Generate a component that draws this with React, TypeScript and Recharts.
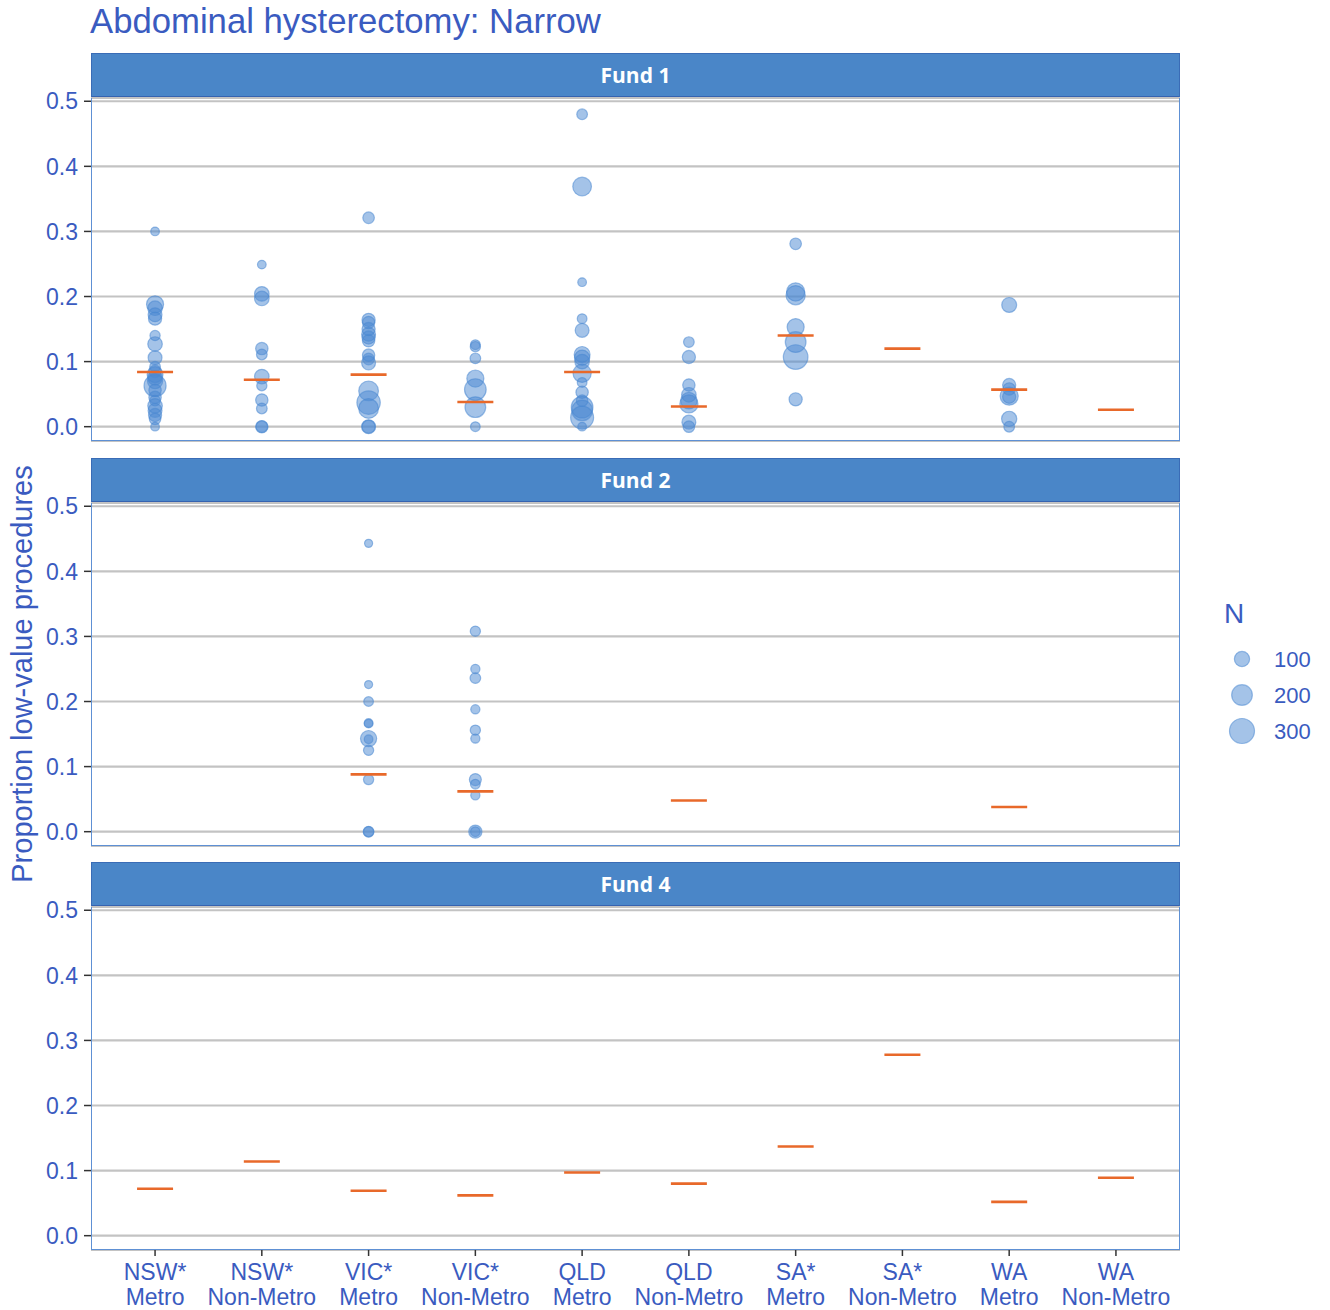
import React from 'react';
import { ScatterChart, Scatter, XAxis, YAxis, ZAxis, CartesianGrid } from 'recharts';

const regionLabels = ['NSW*', 'NSW*', 'VIC*', 'VIC*', 'QLD', 'QLD', 'SA*', 'SA*', 'WA', 'WA'];
const areaLabels = ['Metro', 'Non-Metro', 'Metro', 'Non-Metro', 'Metro', 'Non-Metro', 'Metro', 'Non-Metro', 'Metro', 'Non-Metro'];
const categoryIndex = [1, 2, 3, 4, 5, 6, 7, 8, 9, 10];
const yTicks = [0, 0.1, 0.2, 0.3, 0.4, 0.5];
const legendSizes = [100, 200, 300];

// [category (1-based), proportion low-value, N]
const fund1Points: [number, number, number][] = [
  [1, 0.300, 20], [1, 0.188, 130], [1, 0.182, 90], [1, 0.172, 80], [1, 0.166, 70], [1, 0.140, 35],
  [1, 0.127, 90], [1, 0.106, 80], [1, 0.092, 40], [1, 0.085, 60], [1, 0.080, 110], [1, 0.075, 90],
  [1, 0.070, 100], [1, 0.063, 230], [1, 0.056, 60], [1, 0.045, 60], [1, 0.040, 40], [1, 0.032, 90],
  [1, 0.025, 80], [1, 0.018, 70], [1, 0.012, 50], [1, 0.0, 20],
  [2, 0.249, 20], [2, 0.204, 90], [2, 0.197, 90], [2, 0.120, 60], [2, 0.111, 40], [2, 0.077, 90],
  [2, 0.063, 35], [2, 0.041, 60], [2, 0.028, 40], [2, 0.0, 60], [2, 0.0, 50],
  [3, 0.321, 50], [3, 0.164, 70], [3, 0.160, 60], [3, 0.150, 70], [3, 0.142, 80], [3, 0.137, 70],
  [3, 0.132, 60], [3, 0.110, 60], [3, 0.104, 50], [3, 0.098, 80], [3, 0.055, 180], [3, 0.037, 260],
  [3, 0.028, 180], [3, 0.0, 80], [3, 0.0, 70],
  [4, 0.126, 30], [4, 0.123, 35], [4, 0.105, 40], [4, 0.074, 130], [4, 0.057, 220], [4, 0.030, 200],
  [4, 0.0, 30],
  [5, 0.480, 40], [5, 0.369, 160], [5, 0.222, 20], [5, 0.166, 30], [5, 0.148, 80], [5, 0.111, 110],
  [5, 0.106, 100], [5, 0.100, 90], [5, 0.082, 150], [5, 0.068, 30], [5, 0.053, 60], [5, 0.040, 50],
  [5, 0.030, 220], [5, 0.025, 200], [5, 0.014, 250], [5, 0.0, 20],
  [6, 0.130, 40], [6, 0.107, 70], [6, 0.064, 60], [6, 0.049, 90], [6, 0.040, 120], [6, 0.035, 150],
  [6, 0.007, 80], [6, 0.0, 50],
  [7, 0.281, 50], [7, 0.207, 150], [7, 0.202, 170], [7, 0.153, 130], [7, 0.130, 200], [7, 0.107, 290],
  [7, 0.042, 70],
  [9, 0.187, 95], [9, 0.064, 70], [9, 0.058, 60], [9, 0.047, 150], [9, 0.046, 70], [9, 0.012, 100],
  [9, 0.0, 40],
];

const fund2Points: [number, number, number][] = [
  [3, 0.443, 15], [3, 0.226, 15], [3, 0.200, 30], [3, 0.167, 20], [3, 0.166, 20], [3, 0.143, 115],
  [3, 0.142, 20], [3, 0.125, 35], [3, 0.080, 35], [3, 0.0, 40], [3, 0.0, 35],
  [4, 0.308, 35], [4, 0.250, 25], [4, 0.236, 40], [4, 0.188, 25], [4, 0.156, 35], [4, 0.143, 25],
  [4, 0.080, 55], [4, 0.073, 30], [4, 0.056, 25], [4, 0.0, 70], [4, 0.0, 30],
];

const fund4Points: [number, number, number][] = [];

const fund1Medians: (number | null)[] = [0.084, 0.072, 0.080, 0.038, 0.084, 0.031, 0.140, 0.120, 0.057, 0.026];
const fund2Medians: (number | null)[] = [null, null, 0.088, 0.062, null, 0.048, null, null, 0.038, null];
const fund4Medians: (number | null)[] = [0.072, 0.114, 0.069, 0.062, 0.097, 0.080, 0.137, 0.278, 0.052, 0.089];

const BLUE_TEXT = '#3A5BC0';
const POINT = '#4A88D2';
const ORANGE = '#E8692A';
const STRIP = '#4A86C8';
const FONT = "'Liberation Sans', Arial, sans-serif";

const Z_DOMAIN: [number, number] = [0, 300];
const Z_RANGE: [number, number] = [28, 491];
const areaFor = (n: number) => Z_RANGE[0] + ((n - Z_DOMAIN[0]) / (Z_DOMAIN[1] - Z_DOMAIN[0])) * (Z_RANGE[1] - Z_RANGE[0]);

const PLOT_H = 343;
const PLOT_LEFT = 91;
const PLOT_W = 1089;

const Bubble = (props: any) => {
  const { cx, cy, width } = props;
  if (cx == null || cy == null) return null;
  const r = (width || 8) / 2;
  return <circle cx={cx} cy={cy} r={r} fill={POINT} fillOpacity={0.5} stroke={POINT} strokeOpacity={0.55} strokeWidth={1.2} />;
};

const MedianMark = (props: any) => {
  const { cx, cy } = props;
  if (cx == null || cy == null) return null;
  return <line x1={cx - 18} x2={cx + 18} y1={cy} y2={cy} stroke={ORANGE} strokeWidth={2.6} />;
};

const XTick = (props: any) => {
  const { x, y, payload } = props;
  const i = Math.round(payload.value) - 1;
  return (
    <text x={x} y={y} textAnchor="middle" fill={BLUE_TEXT} fontSize={23} fontFamily={FONT}>
      <tspan x={x} dy={22}>{regionLabels[i]}</tspan>
      <tspan x={x} dy={25}>{areaLabels[i]}</tspan>
    </text>
  );
};

function Panel({ top, name, points, medians, showX }: { top: number; name: string; points: [number, number, number][]; medians: (number | null)[]; showX: boolean }) {
  const pts = points.map(([c, v, n]) => ({ x: c, y: v, n }));
  const meds = medians
    .map((m, i) => (m == null ? null : { x: categoryIndex[i], y: m }))
    .filter((d) => d !== null) as { x: number; y: number }[];
  const bottom = showX ? 60 : 10;
  const H = 20 + PLOT_H + bottom;
  return (
    <>
      <div
        style={{
          position: 'absolute', left: PLOT_LEFT, top: top - 45, width: PLOT_W, height: 45,
          boxSizing: 'border-box', background: STRIP, border: '1px solid #3A6CB6',
          borderBottom: '2px solid #3663B0',
          color: '#fff', fontFamily: "'Open Sans', sans-serif", fontWeight: 700, fontSize: 21,
          display: 'flex', alignItems: 'center', justifyContent: 'center',
        }}
      >
        {name}
      </div>
      <div style={{ position: 'absolute', left: 0, top: top - 20 }}>
        <ScatterChart width={1330} height={H} margin={{ top: 20, right: 150, bottom: showX ? 0 : 10, left: 0 }}>
          <CartesianGrid vertical={false} stroke="#C3C3C3" strokeWidth={2.2} />
          <XAxis
            type="number" dataKey="x" domain={[0.4, 10.6]} ticks={categoryIndex} interval={0}
            hide={!showX} height={60} axisLine={false} tickSize={6} tickMargin={2}
            tickLine={{ stroke: '#333', strokeWidth: 1.5 }} tick={<XTick />} allowDataOverflow
          />
          <YAxis
            type="number" dataKey="y" domain={[-0.022, 0.505]} ticks={yTicks} interval={0} width={91}
            axisLine={false} tickSize={7} tickMargin={6} tickLine={{ stroke: '#333', strokeWidth: 1.5 }}
            tickFormatter={(v: number) => v.toFixed(1)}
            tick={{ fill: BLUE_TEXT, fontSize: 23, fontFamily: FONT }} allowDataOverflow
          />
          <ZAxis type="number" dataKey="n" domain={Z_DOMAIN} range={Z_RANGE} />
          <Scatter data={pts} shape={Bubble} isAnimationActive={false} />
          <Scatter data={meds} shape={MedianMark} isAnimationActive={false} />
        </ScatterChart>
      </div>
      <div
        style={{
          position: 'absolute', left: PLOT_LEFT, top, width: PLOT_W, height: PLOT_H,
          border: '1px solid #5E90D4', borderTop: 'none', boxSizing: 'border-box', pointerEvents: 'none',
        }}
      />
    </>
  );
}

export default function App() {
  return (
    <div style={{ position: 'absolute', left: 0, top: 0, width: 1330, height: 1310, background: '#fff', overflow: 'hidden' }}>
      <div style={{ position: 'absolute', left: 90, top: 1, fontFamily: FONT, fontSize: 34.7, lineHeight: '40px', color: BLUE_TEXT, whiteSpace: 'nowrap' }}>
        Abdominal hysterectomy: Narrow
      </div>
      <div
        style={{
          position: 'absolute', left: 22 - 300, top: 674 - 18, width: 600, height: 36, lineHeight: '36px',
          textAlign: 'center', transform: 'rotate(-90deg)', fontFamily: FONT, fontSize: 29, color: BLUE_TEXT, whiteSpace: 'nowrap',
        }}
      >
        Proportion low-value procedures
      </div>
      <Panel top={98} name="Fund 1" points={fund1Points} medians={fund1Medians} showX={false} />
      <Panel top={503} name="Fund 2" points={fund2Points} medians={fund2Medians} showX={false} />
      <Panel top={907} name="Fund 4" points={fund4Points} medians={fund4Medians} showX={true} />
      <div style={{ position: 'absolute', left: 1224, top: 596, fontFamily: FONT, fontSize: 28, lineHeight: '36px', color: BLUE_TEXT }}>N</div>
      <svg style={{ position: 'absolute', left: 1215, top: 640 }} width={115} height={110}>
        {legendSizes.map((n, i) => (
          <g key={n}>
            <circle cx={27} cy={19 + i * 36} r={Math.sqrt(areaFor(n) / Math.PI)} fill={POINT} fillOpacity={0.5} stroke={POINT} strokeOpacity={0.55} strokeWidth={1.2} />
            <text x={59} y={19 + i * 36} dominantBaseline="central" fill={BLUE_TEXT} fontSize={22} fontFamily={FONT}>{n}</text>
          </g>
        ))}
      </svg>
    </div>
  );
}
